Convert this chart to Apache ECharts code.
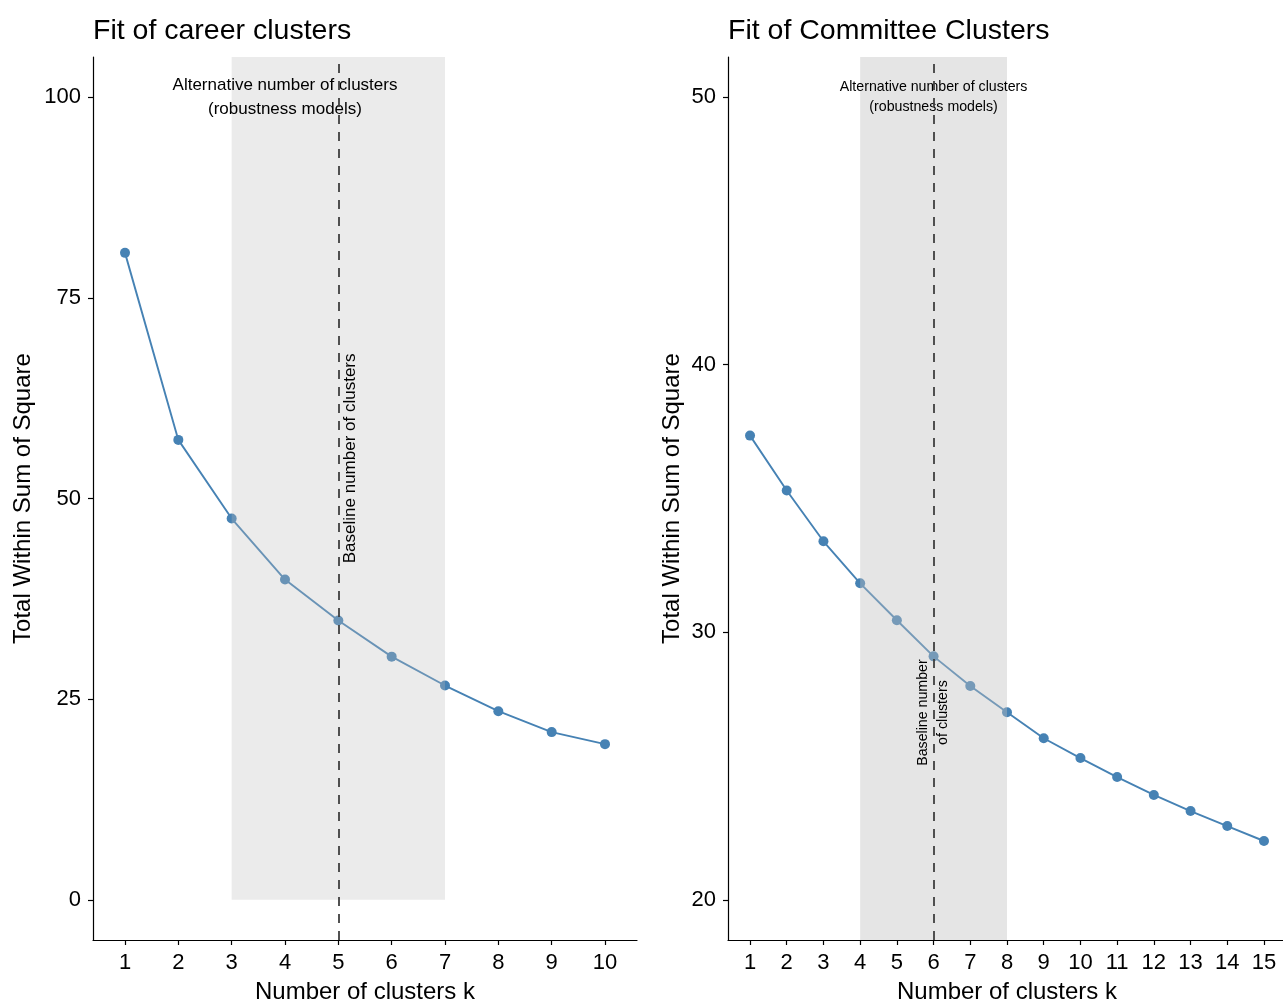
<!DOCTYPE html>
<html>
<head>
<meta charset="utf-8">
<script src="https://cdn.jsdelivr.net/npm/echarts@6/dist/echarts.min.js"></script>
<style>
  html, body { margin: 0; padding: 0; background: #fff; }
  #chart { width: 1283px; height: 1000px; }
</style>
</head>
<body>
<div id="chart"></div>
<script>
// career clusters (left panel)
const careerK = [1, 2, 3, 4, 5, 6, 7, 8, 9, 10];
const careerWss = [80.6, 57.3, 47.5, 39.9, 34.8, 30.3, 26.7, 23.5, 20.9, 19.4];
const careerYTicks = [0, 25, 50, 75, 100];

// committee clusters (right panel)
const committeeK = [1, 2, 3, 4, 5, 6, 7, 8, 9, 10, 11, 12, 13, 14, 15];
const committeeWss = [37.35, 35.3, 33.4, 31.83, 30.45, 29.1, 27.99, 27.01, 26.04, 25.3, 24.59, 23.92, 23.32, 22.76, 22.2];
const committeeYTicks = [20, 30, 40, 50];

const FONT = '"Liberation Sans", Arial, sans-serif';
const BLUE = '#4682b4';

function pairs(xs, ys) {
  return xs.map((x, i) => [x, ys[i]]);
}

function xAxis(gridIndex, ks, max) {
  return {
    type: 'value',
    gridIndex,
    min: 0.4,
    max,
    name: 'Number of clusters k',
    nameLocation: 'middle',
    nameGap: 40,
    nameTextStyle: { fontSize: 24, color: '#000', fontFamily: FONT },
    axisLine: { onZero: false, lineStyle: { color: '#000', width: 1.2 } },
    axisTick: { customValues: ks, length: 5, lineStyle: { color: '#000', width: 1.2 } },
    axisLabel: { customValues: ks, fontSize: 22, color: '#000', fontFamily: FONT, margin: 12 },
    splitLine: { show: false },
  };
}

function yAxis(gridIndex, ticks, min, max, nameGap) {
  return {
    type: 'value',
    gridIndex,
    min,
    max,
    name: 'Total Within Sum of Square',
    nameLocation: 'middle',
    nameGap,
    nameTextStyle: { fontSize: 24, color: '#000', fontFamily: FONT },
    axisLine: { show: true, onZero: false, lineStyle: { color: '#000', width: 1.2 } },
    axisTick: { show: true, customValues: ticks, length: 5, lineStyle: { color: '#000', width: 1.2 } },
    axisLabel: { customValues: ticks, fontSize: 22, color: '#000', fontFamily: FONT, margin: 12 },
    splitLine: { show: false },
  };
}

function textPoint(coord, text, size, lineHeight, rotate) {
  return {
    coord,
    symbolSize: 0,
    label: {
      show: true,
      position: 'inside',
      formatter: text,
      color: '#000',
      fontSize: size,
      lineHeight,
      fontFamily: FONT,
      rotate: rotate || 0,
    },
  };
}

function panelSeries(idx, data, area, vline, texts, alpha) {
  return {
    type: 'line',
    xAxisIndex: idx,
    yAxisIndex: idx,
    data,
    symbol: 'circle',
    symbolSize: 10,
    showSymbol: true,
    lineStyle: { color: BLUE, width: 1.9 },
    itemStyle: { color: BLUE },
    silent: true,
    animation: false,
    markArea: {
      z: 10,
      silent: true,
      itemStyle: { color: `rgba(190,190,190,${alpha})` },
      data: [area],
    },
    markPoint: {
      z: 12,
      silent: true,
      symbol: 'circle',
      itemStyle: { color: 'transparent' },
      data: texts,
    },
    markLine: {
      z: 15,
      silent: true,
      symbol: ['none', 'none'],
      label: { show: false },
      lineStyle: { color: '#3f3f3f', type: [9, 8], width: 1.8 },
      data: [{ xAxis: vline }],
    },
  };
}

const chart = echarts.init(document.getElementById('chart'));
chart.setOption({
  animation: false,
  backgroundColor: '#fff',
  title: [
    { text: 'Fit of career clusters', left: 88, top: 12, textStyle: { fontSize: 28.5, fontWeight: 'normal', color: '#000', fontFamily: FONT } },
    { text: 'Fit of Committee Clusters', left: 723, top: 12, textStyle: { fontSize: 28.5, fontWeight: 'normal', color: '#000', fontFamily: FONT } },
  ],
  grid: [
    { left: 93, right: 646, top: 57, bottom: 60, outerBoundsMode: 'none', containLabel: false },
    { left: 728, right: -3, top: 57, bottom: 60, outerBoundsMode: 'none', containLabel: false },
  ],
  xAxis: [xAxis(0, careerK, 10.6), xAxis(1, committeeK, 15.6)],
  yAxis: [yAxis(0, careerYTicks, -5, 105, 58), yAxis(1, committeeYTicks, 18.5, 51.5, 44)],
  series: [
    panelSeries(0, pairs(careerK, careerWss),
      [{ xAxis: 3, yAxis: 0 }, { xAxis: 7, yAxis: 105 }], 5,
      [
        textPoint([4, 100], 'Alternative number of clusters\n(robustness models)', 17, 24),
        textPoint([5.23, 55], 'Baseline number of clusters', 17, 20, 90),
      ], 0.3),
    panelSeries(1, pairs(committeeK, committeeWss),
      [{ xAxis: 4 }, { xAxis: 8 }], 6,
      [
        textPoint([6, 50], 'Alternative number of clusters\n(robustness models)', 14.2, 20),
        textPoint([6, 27], 'Baseline number\nof clusters', 14.2, 20, 90),
      ], 0.4),
  ],
});
</script>
</body>
</html>
